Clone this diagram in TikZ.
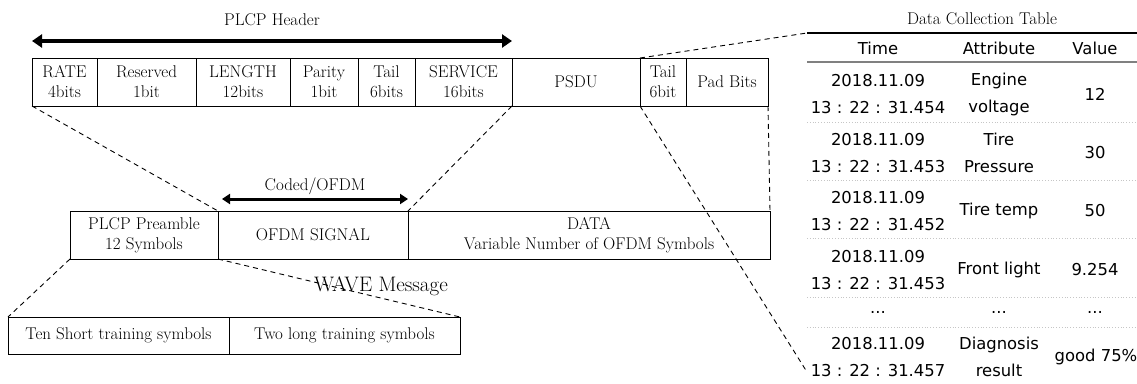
\documentclass[tikz,border=0pt]{standalone}
\usepackage{fontspec}
\newfontfamily\tabfont{DejaVu Sans}
\usetikzlibrary{arrows.meta,positioning}

\begin{document}
\begin{tikzpicture}[x=1pt,y=-1pt,
    cell/.style={draw, line width=0.9pt, inner sep=0pt, outer sep=0pt, align=center,
        font=\fontsize{17}{20}\selectfont},
    txt/.style={inner sep=0pt, align=center, font=\fontsize{17}{20}\selectfont},
    tab/.style={inner sep=0pt, align=center, font=\tabfont\fontsize{16.4}{27}\selectfont},
    link/.style={line width=0.9pt, dash pattern=on 5pt off 4pt},
    span/.style={{Triangle[length=10pt,width=13pt]}-{Triangle[length=10pt,width=13pt]}, line width=4pt},
    spansmall/.style={{Triangle[length=8pt,width=10pt]}-{Triangle[length=8pt,width=10pt]}, line width=3pt},
    sep/.style={gray!45, line width=0.8pt, dotted}]
\useasboundingbox (0,0) rectangle (1137,383);

% PLCP frame
\node[cell, minimum width=65pt, minimum height=48pt, anchor=north west] (rate) at (32,58) {RATE\\4bits};
\node[cell, minimum width=99pt, minimum height=48pt, right=0pt of rate] (res) {Reserved\\1bit};
\node[cell, minimum width=94pt, minimum height=48pt, right=0pt of res] (len) {LENGTH\\12bits};
\node[cell, minimum width=68pt, minimum height=48pt, right=0pt of len] (par) {Parity\\1bit};
\node[cell, minimum width=57pt, minimum height=48pt, right=0pt of par] (tail) {Tail\\6bits};
\node[cell, minimum width=97pt, minimum height=48pt, right=0pt of tail] (serv) {SERVICE\\16bits};
\node[cell, minimum width=128pt, minimum height=48pt, right=0pt of serv] (psdu) {PSDU};
\node[cell, minimum width=46pt, minimum height=48pt, right=0pt of psdu] (tailb) {Tail\\6bit};
\node[cell, minimum width=82pt, minimum height=48pt, right=0pt of tailb] (pad) {Pad Bits};

\draw[span] ([yshift=17pt]rate.north west) -- ([yshift=17pt]serv.north east)
    node[txt, midway, above=13pt] (hdr) {PLCP Header};

% OFDM row
\node[cell, minimum width=148pt, minimum height=48pt, anchor=north west] (pre) at (70,211) {PLCP Preamble\\12 Symbols};
\node[cell, minimum width=190pt, minimum height=48pt, right=0pt of pre] (sig) {OFDM SIGNAL};
\node[cell, minimum width=362pt, minimum height=48pt, right=0pt of sig] (data) {DATA\\Variable Number of OFDM Symbols};

\draw[spansmall] ([xshift=4pt,yshift=12pt]sig.north west) -- ([yshift=12pt]sig.north east)
    node[txt, midway, above=3pt] (coded) {Coded/OFDM};

% training symbols
\node[cell, minimum width=221pt, minimum height=37pt, anchor=north west] (ten) at (8,317) {Ten Short training symbols};
\node[cell, minimum width=231pt, minimum height=37pt, right=0pt of ten] (two) {Two long training symbols};

\node[txt, font=\fontsize{21}{24}\selectfont] (wave) at (381,286) {WAVE Message};

% zoom lines
\coordinate (ttop) at (807,33);
\coordinate (tbot) at (807,372);
\coordinate (tend) at (1137,33);
\draw[link] (rate.south west) -- (sig.north west);
\draw[link] (serv.south east) -- (sig.north east);
\draw[link] (pad.south east) -- (data.north east);
\draw[link] (tailb.north west) -- (ttop);
\draw[link] (tailb.south west) -- (tbot);
\draw[link] (pre.south west) -- (ten.north west);
\draw[link] (pre.south east) -- (two.north east);

% data collection table
\node[txt] (ttl) at (982,19) {Data Collection Table};
\draw[line width=2pt] (ttop) -- (tend);
\draw[gray, line width=2pt] (807,62) -- (1137,62);
\foreach \y in {122,180,238,297,327}
    \draw[sep] (807,\y) -- (1137,\y);

\node[tab] (h1) at (878,48) {Time};
\node[tab] (h2) at (999,48) {Attribute};
\node[tab] (h3) at (1095,48) {Value};

\node[tab] (t1) at (878,94) {2018.11.09\\13 : 22 : 31.454};
\node[tab] (a1) at (999,94) {Engine\\voltage};
\node[tab] (v1) at (1095,94) {12};

\node[tab] (t2) at (878,153) {2018.11.09\\13 : 22 : 31.453};
\node[tab] (a2) at (999,153) {Tire\\Pressure};
\node[tab] (v2) at (1095,153) {30};

\node[tab] (t3) at (878,211) {2018.11.09\\13 : 22 : 31.452};
\node[tab] (a3) at (999,211) {Tire temp};
\node[tab] (v3) at (1095,211) {50};

\node[tab] (t4) at (878,270) {2018.11.09\\13 : 22 : 31.453};
\node[tab] (a4) at (999,270) {Front light};
\node[tab] (v4) at (1095,270) {9.254};

\node[tab] (t5) at (878,312) {...};
\node[tab] (a5) at (999,312) {...};
\node[tab] (v5) at (1095,312) {...};

\node[tab] (t6) at (878,357) {2018.11.09\\13 : 22 : 31.457};
\node[tab] (a6) at (999,357) {Diagnosis\\result};
\node[tab] (v6) at (1096,357) {good 75\%};
\end{tikzpicture}
\end{document}
